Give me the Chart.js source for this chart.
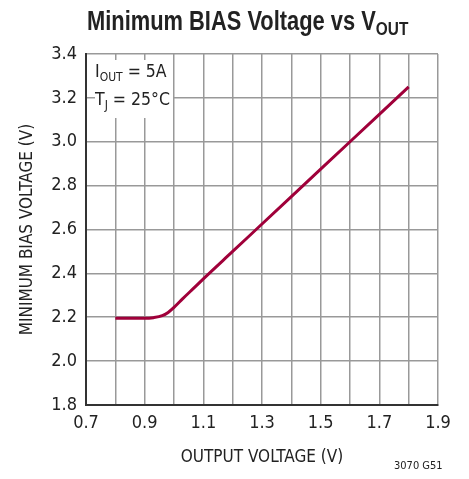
<!DOCTYPE html>
<html lang="en">
<head>
    <meta charset="UTF-8">
    <title>Minimum BIAS Voltage vs VOUT</title>
    <script src="https://cdn.jsdelivr.net/npm/chart.js"></script>
    <style>
        body { margin: 0; background: #fff; }
        #wrap { position: relative; width: 469px; height: 479px; font-family: 'DejaVu Sans Condensed', 'Liberation Sans', sans-serif; color: #222; }
        canvas { position: absolute; left: 0; top: 0; }
        #title { position: absolute; left: 87px; top: 6px; font-family: 'Liberation Sans', sans-serif; font-size: 27px; font-weight: bold; white-space: nowrap; transform: scaleX(0.81); transform-origin: left top; }
        #title sub { font-size: 19px; vertical-align: -5px; }
        #note { position: absolute; left: 95px; top: 60px; font-size: 17.5px; line-height: 22px; background: #fff; padding: 0 3px 2px 0; }
        #note sub { font-size: 12px; vertical-align: -4px; }
        #code { position: absolute; left: 394px; top: 459px; font-size: 11px; }
    </style>
</head>
<body>
<div id="wrap">
    <canvas id="biasChart" width="469" height="479"></canvas>
    <div id="title">Minimum BIAS Voltage vs V<sub>OUT</sub></div>
    <div id="note">I<sub>OUT</sub> = 5A<br>T<sub>J</sub> = 25°C</div>
    <div id="code">3070 G51</div>
</div>
<script>
    // output voltage (V) and minimum bias voltage (V)
    const vOut = [0.8, 0.85, 0.9, 0.93, 0.96, 0.98, 1.0, 1.03, 1.07, 1.1, 1.2, 1.3, 1.4, 1.5, 1.6, 1.7, 1.8];
    const vBias = [2.195, 2.195, 2.195, 2.198, 2.207, 2.222, 2.245, 2.285, 2.336, 2.375, 2.5, 2.625, 2.75, 2.875, 3.0, 3.125, 3.25];
    const xTicks = [0.7, 0.9, 1.1, 1.3, 1.5, 1.7, 1.9];

    const font = 'DejaVu Sans Condensed, Liberation Sans, sans-serif';

    new Chart(document.getElementById('biasChart'), {
        type: 'line',
        data: {
            datasets: [{
                data: vOut.map((x, i) => ({ x: x, y: vBias[i] })),
                borderColor: '#a0003a',
                borderWidth: 3,
                pointRadius: 0,
                cubicInterpolationMode: 'monotone'
            }]
        },
        options: {
            responsive: false,
            animation: false,
            layout: { padding: { top: 54, right: 31, left: 0, bottom: 0 } },
            plugins: { legend: { display: false }, tooltip: { enabled: false } },
            scales: {
                x: {
                    type: 'linear',
                    min: 0.7, max: 1.9,
                    afterFit: s => { s.height = 74; },
                    afterBuildTicks: s => {
                        // grid every 0.1, labels every 0.2
                        const t = [];
                        for (let i = 0; i <= 12; i++) t.push({ value: Math.round((0.7 + i * 0.1) * 10) / 10 });
                        s.ticks = t;
                    },
                    grid: { color: '#999', lineWidth: 1.5, drawTicks: false },
                    border: { color: '#333', width: 2 },
                    ticks: {
                        padding: 8,
                        color: '#222',
                        font: { family: font, size: 18 },
                        maxRotation: 0,
                        autoSkip: false,
                        callback: v => xTicks.includes(Math.round(v * 10) / 10) ? v.toFixed(1) : ''
                    },
                    title: { display: true, text: 'OUTPUT VOLTAGE (V)', color: '#222', font: { family: font, size: 17 }, padding: { top: 0, bottom: 11 } }
                },
                y: {
                    min: 1.8, max: 3.4,
                    afterFit: s => { s.width = 86; },
                    grid: { color: '#999', lineWidth: 1.5, drawTicks: false },
                    border: { color: '#333', width: 2 },
                    ticks: {
                        stepSize: 0.2,
                        padding: 9,
                        color: '#222',
                        font: { family: font, size: 18 },
                        callback: v => v.toFixed(1)
                    },
                    title: { display: true, text: 'MINIMUM BIAS VOLTAGE (V)', color: '#222', font: { family: font, size: 17 }, padding: { top: 17 } }
                }
            }
        }
    });
</script>
</body>
</html>
